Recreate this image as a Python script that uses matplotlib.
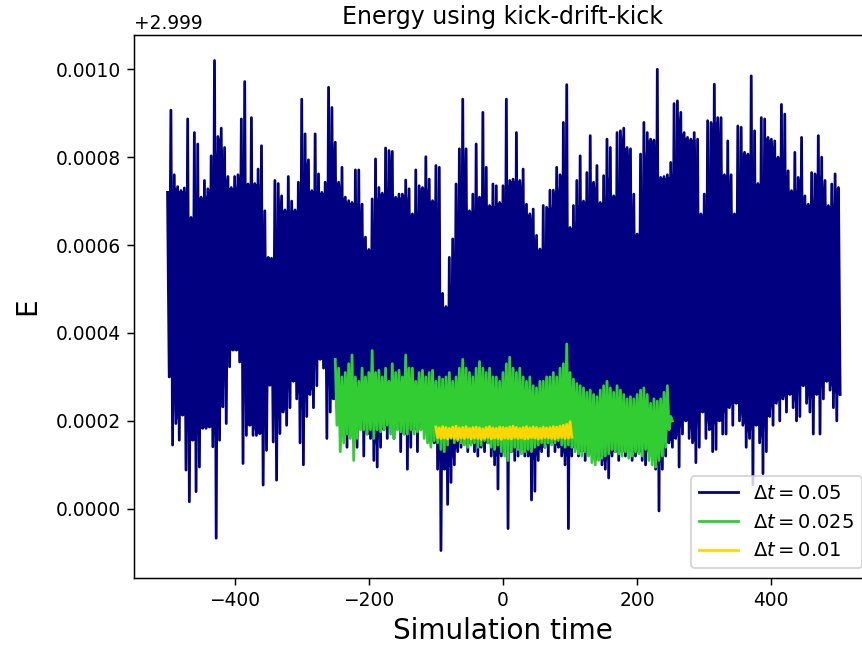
import numpy as np
import matplotlib
matplotlib.use('Agg')
import matplotlib.pyplot as plt

# energy offsets from 2.999, in units of 1e-4
# (upper / lower excursion of the noisy trace in each 5-unit time bin)
BASE = 2.999
UNIT = 1e-4

labels = [r'$\Delta t = 0.05$', r'$\Delta t = 0.025$', r'$\Delta t = 0.01$']
colors = ['navy', 'limegreen', 'gold']

# dt = 0.05, t = -500 ... 500
t_a = np.arange(-500, 501, 5)
hi_a = [7.2, 9.07, 7.6, 7.33, 7.24, 7.3, 8.87, 6.63, 8.56, 8.3,
        7.09, 7.47, 7.28, 8.03, 10.2, 8.47, 8.66, 8.22, 7.56, 7.31,
        7.56, 7.6, 8.87, 9.72, 7.39, 8.9, 7.4, 7.73, 8.26, 6.78,
        5.72, 5.7, 7.47, 7.4, 7.12, 6.8, 7.56, 7.0, 6.8, 7.43,
        9.32, 8.53, 7.94, 7.24, 8.53, 7.62, 7.2, 7.43, 9.59, 9.13,
        8.34, 7.43, 7.77, 7.09, 7.01, 6.97, 7.71, 7.71, 6.93, 6.18,
        5.9, 7.05, 7.96, 7.31, 7.18, 8.21, 8.15, 8.13, 7.09, 7.16,
        7.16, 7.48, 7.28, 6.71, 7.71, 7.35, 7.31, 8.01, 7.5, 7.01,
        7.81, 7.77, 4.9, 4.6, 5.72, 6.14, 7.39, 8.19, 9.32, 8.19,
        6.78, 7.16, 8.3, 7.09, 9.02, 7.77, 6.9, 7.39, 7.35, 6.97,
        7.35, 9.32, 7.47, 7.5, 8.56, 7.47, 7.73, 6.93, 6.71, 6.82,
        6.22, 5.91, 6.9, 6.86, 7.25, 7.25, 7.77, 7.6, 8.79, 9.65,
        6.4, 6.9, 7.47, 8.03, 7.0, 7.65, 8.49, 7.43, 7.81, 6.97,
        7.58, 8.41, 8.22, 7.12, 8.56, 8.6, 8.66, 8.22, 8.19, 7.16,
        6.25, 8.07, 8.79, 8.56, 8.41, 8.39, 10.0, 7.54, 7.56, 7.6,
        7.88, 9.22, 9.28, 9.02, 8.56, 8.45, 8.41, 8.56, 8.41, 6.71,
        7.16, 8.83, 8.79, 9.66, 8.9, 8.9, 7.6, 8.37, 7.6, 6.71,
        8.71, 8.68, 8.11, 8.07, 9.85, 8.6, 7.4, 8.9, 8.87, 8.45,
        8.41, 8.37, 8.0, 9.2, 8.98, 7.69, 7.24, 8.11, 7.54, 8.45,
        7.12, 6.93, 7.65, 7.62, 8.49, 8.0, 7.47, 6.9, 7.39, 7.62,
        7.31]
lo_a = [3.0, 1.45, 1.94, 1.56, 2.13, 0.88, 0.16, 1.56, 0.39, 0.95,
        1.83, 1.83, 1.86, 1.41, -0.67, 1.56, 2.32, 1.94, 3.23, 3.61,
        3.61, 3.34, 1.03, 1.67, 1.9, 1.67, 1.67, 1.71, 0.54, 1.33,
        2.81, 1.52, 0.65, 1.71, 2.2, 1.9, 2.3, 2.9, 2.5, 1.5,
        1.0, 2.1, 2.6, 2.3, 2.8, 3.4, 3.2, 1.6, 2.2, 2.5,
        2.3, 1.9, 2.1, 1.4, 2.0, 1.5, 1.4, 2.0, 1.2, 1.7,
        1.6, 1.1, 0.95, 1.4, 1.8, 1.6, 2.0, 1.6, 1.9, 1.3,
        1.7, 0.9, 1.4, 1.8, 1.3, 1.9, 1.9, 1.7, 1.5, 1.5,
        0.9, -0.95, 0.9, 0.1, 0.6, 1.0, 1.3, 1.4, 1.6, 1.3,
        1.5, 1.3, 1.2, 1.4, 1.3, 1.5, 1.2, 1.0, 0.45, 1.2,
        1.3, -0.45, 1.3, 1.1, 1.2, 1.5, 1.2, 1.2, 0.2, 0.4,
        1.1, 1.3, 1.4, 1.2, 1.5, 1.3, 1.4, 1.2, 1.0, -0.45,
        1.2, 1.4, 1.2, 1.3, 1.1, 1.4, 1.3, 1.1, 1.2, 1.0,
        0.9, 0.7, 1.2, 1.3, 1.1, 1.3, 1.2, 1.4, 1.1, 1.2,
        1.3, 1.1, 1.0, 1.3, 1.2, 0.9, -0.05, 0.9, 1.2, 1.5,
        1.4, 1.6, 0.95, 1.7, 2.0, 1.6, 1.5, 1.05, 1.4, 2.2,
        1.6, 1.8, 1.3, 1.35, 2.0, 1.7, 1.7, 2.3, 1.9, 2.4,
        2.0, 1.9, 1.4, 1.6, 0.55, 1.9, 1.5, 0.8, 1.3, 2.1,
        1.9, 2.4, 2.0, 2.5, 2.2, 2.6, 2.3, 2.0, 2.1, 2.8,
        2.4, 2.2, 1.7, 2.6, 1.7, 2.5, 2.9, 2.7, 2.3, 2.0,
        2.6]

# dt = 0.025, t = -250 ... 250
t_b = np.arange(-250, 251, 5)
hi_b = [3.4, 3.2, 3.0, 3.1, 3.3, 3.5, 3.0, 2.9, 3.2, 3.0,
        3.1, 3.6, 3.1, 3.15, 3.0, 3.2, 2.9, 3.3, 3.1, 3.15,
        3.0, 3.5, 3.2, 3.2, 2.9, 3.1, 3.15, 3.0, 3.1, 3.15,
        2.9, 3.0, 2.95, 3.0, 3.1, 2.9, 3.0, 3.2, 3.4, 3.2,
        3.1, 3.0, 3.2, 3.35, 3.2, 3.1, 3.2, 3.0, 3.0, 2.9,
        3.1, 3.3, 3.45, 3.2, 3.1, 3.2, 3.0, 2.9, 3.0, 2.8,
        2.75, 2.9, 2.9, 3.0, 3.0, 3.1, 3.0, 3.2, 3.3, 3.75,
        3.1, 2.95, 2.85, 2.8, 2.75, 2.65, 2.7, 2.6, 2.55, 2.7,
        2.8, 2.9, 2.75, 2.65, 2.8, 2.7, 2.6, 2.5, 2.55, 2.5,
        2.6, 2.7, 2.75, 2.6, 2.4, 2.5, 2.45, 2.5, 2.65, 2.8,
        2.1]
lo_b = [1.9, 1.3, 1.5, 1.7, 1.6, 1.1, 1.6, 1.8, 1.8, 1.7,
        1.8, 1.6, 1.8, 1.75, 1.8, 1.9, 1.7, 1.6, 1.8, 1.75,
        1.7, 1.7, 1.8, 1.7, 1.75, 1.8, 1.6, 1.5, 1.4, 1.55,
        1.5, 1.35, 1.3, 1.45, 1.6, 1.5, 1.55, 1.5, 1.45, 1.4,
        1.45, 1.5, 1.4, 1.45, 1.55, 1.5, 1.4, 1.35, 1.45, 1.3,
        1.2, 1.1, 1.3, 1.4, 1.35, 1.25, 1.3, 1.35, 1.3, 1.4,
        1.45, 1.5, 1.4, 1.5, 1.45, 1.5, 1.55, 1.45, 1.4, 1.45,
        1.4, 1.3, 1.25, 1.2, 1.3, 1.2, 1.05, 1.0, 1.1, 1.15,
        1.2, 1.25, 1.35, 1.3, 1.25, 1.2, 1.3, 1.15, 1.2, 1.3,
        1.25, 1.2, 1.35, 1.1, 1.0, 0.95, 1.1, 1.2, 1.4, 1.8,
        2.0]

# dt = 0.01, t = -100 ... 100
t_c = np.arange(-100, 101, 5)
hi_c = [1.86, 1.84, 1.87, 1.85, 1.83, 1.86, 1.88, 1.84, 1.85, 1.87,
        1.83, 1.85, 1.86, 1.84, 1.82, 1.85, 1.87, 1.84, 1.83, 1.86,
        1.85, 1.84, 1.86, 1.88, 1.85, 1.83, 1.85, 1.87, 1.84, 1.86,
        1.85, 1.83, 1.86, 1.84, 1.85, 1.87, 1.86, 1.88, 1.90, 1.92,
        1.98]
lo_c = [1.62, 1.60, 1.61, 1.59, 1.62, 1.60, 1.58, 1.61, 1.60, 1.62,
        1.59, 1.61, 1.60, 1.58, 1.60, 1.62, 1.59, 1.61, 1.60, 1.58,
        1.61, 1.60, 1.59, 1.62, 1.60, 1.61, 1.59, 1.60, 1.62, 1.61,
        1.59, 1.60, 1.62, 1.61, 1.60, 1.59, 1.61, 1.62, 1.60, 1.61,
        1.63]


def trace(t, hi, lo):
    # one line swinging between the read upper and lower values of each bin
    x = np.empty(2 * len(t))
    y = np.empty(2 * len(t))
    x[0::2] = t
    x[1::2] = t + 2.5
    y[0::2] = hi
    y[1::2] = lo
    return x, y


def core(hi, lo):
    # the solid body of the trace: below the lower of neighbouring peaks,
    # above the higher of neighbouring dips
    hp = np.pad(hi, 1, mode='edge')
    lp = np.pad(lo, 1, mode='edge')
    top = np.minimum(np.minimum(hp[:-2], hp[1:-1]), hp[2:])
    bot = np.maximum(np.maximum(lp[:-2], lp[1:-1]), lp[2:])
    return top, bot


fig = plt.figure(figsize=(862 / 134, 645 / 134), dpi=134)
ax = fig.add_axes([134 / 862, 67 / 645, 738 / 862, 543 / 645])

series = [(t_a, hi_a, lo_a), (t_b, hi_b, lo_b), (t_c, hi_c, lo_c)]
for (t, hi, lo), lab, col in zip(series, labels, colors):
    hi = np.asarray(hi) * UNIT + BASE
    lo = np.asarray(lo) * UNIT + BASE
    top, bot = core(hi, lo)
    ax.fill_between(t + 1.25, bot, top, color=col, lw=0)
    x, y = trace(t, hi, lo)
    ax.plot(x, y, color=col, lw=1.5, label=lab)

ax.set_xlim(-550, 550)
ax.set_ylim(BASE - 1.575 * UNIT, BASE + 10.78 * UNIT)
ax.yaxis.get_major_formatter().set_useOffset(BASE)

ax.set_title('Energy using kick-drift-kick', fontsize=12.7)
ax.set_xlabel('Simulation time', fontsize=15)
ax.set_ylabel('E', fontsize=15, labelpad=8)
ax.legend(loc='lower right', fontsize=10.5)

fig.savefig('out.png', dpi=134)
